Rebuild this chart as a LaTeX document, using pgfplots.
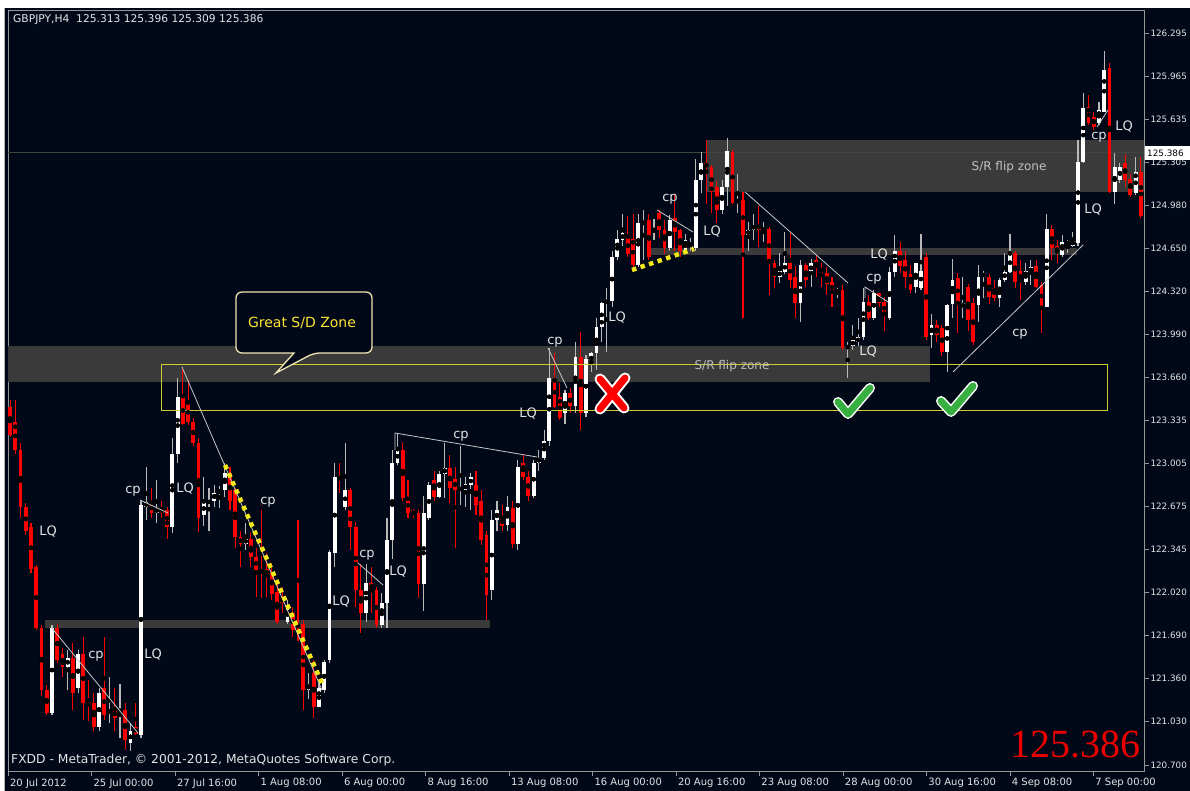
\documentclass[border=0pt]{standalone}
\usepackage{pgfplots}
\pgfplotsset{compat=1.18}
\usepackage{pgfplotstable}
\usepackage{fontspec}
\setmainfont{DejaVu Sans}
\newfontfamily\serifnum{Liberation Serif}
\definecolor{bg}{RGB}{1,9,25}
\definecolor{zone}{RGB}{58,58,58}
\definecolor{bullwick}{RGB}{185,185,185}
\definecolor{bear}{RGB}{255,0,0}
\definecolor{framec}{RGB}{150,150,150}
\definecolor{ylw}{RGB}{205,205,45}
\definecolor{dotylw}{RGB}{245,232,25}
\definecolor{lbl}{RGB}{228,228,228}
\definecolor{chk}{RGB}{55,175,65}
\definecolor{callc}{RGB}{238,228,180}
\definecolor{calltxt}{RGB}{255,228,50}
\definecolor{trend}{RGB}{200,200,200}
\definecolor{pline}{RGB}{60,72,60}

\pgfplotstableread{
i o h l c
0 123.44 123.49 123.21 123.22
1 123.32 123.49 123.08 123.11
2 123.11 123.16 122.59 122.67
3 122.67 122.70 122.46 122.49
4 122.52 122.55 122.17 122.20
5 122.21 122.23 121.73 121.75
6 121.75 121.77 121.23 121.27
7 121.27 121.31 121.08 121.10
8 121.10 121.77 121.08 121.75
9 121.75 121.78 121.48 121.50
10 121.55 121.59 121.37 121.45
11 121.45 121.58 121.27 121.52
12 121.52 121.63 121.12 121.25
13 121.29 121.58 121.25 121.55
14 121.55 121.68 121.04 121.17
15 121.18 121.35 121.04 121.15
16 121.17 121.25 120.96 120.99
17 120.99 121.29 120.96 121.25
18 121.29 121.68 121.04 121.08
19 121.10 121.37 121.02 121.12
20 121.12 121.29 120.96 121.06
21 121.07 121.32 120.91 121.10
22 121.12 121.17 120.81 120.89
23 120.87 121.02 120.81 120.96
24 120.99 121.17 120.93 120.94
25 120.93 122.72 120.91 122.69
26 122.67 122.98 122.57 122.71
27 122.70 122.82 122.59 122.63
28 122.63 122.88 122.55 122.66
29 122.66 122.72 122.59 122.63
30 122.65 122.67 122.43 122.52
31 122.52 123.20 122.47 123.08
32 123.08 123.66 123.01 123.51
33 123.51 123.74 123.30 123.31
34 123.47 123.64 123.30 123.32
35 123.32 123.35 123.14 123.16
36 123.16 123.20 122.48 122.59
37 122.61 122.90 122.53 122.71
38 122.70 122.82 122.49 122.72
39 122.72 122.84 122.67 122.78
40 122.78 122.83 122.66 122.80
41 122.80 123.01 122.75 122.93
42 122.93 122.98 122.65 122.72
43 122.80 122.82 122.36 122.44
44 122.44 122.49 122.21 122.39
45 122.39 122.55 122.34 122.43
46 122.43 122.47 122.21 122.29
47 122.29 122.36 121.98 122.19
48 122.19 122.65 121.98 122.17
49 122.20 122.32 121.98 122.15
50 122.17 122.24 121.96 122.01
51 122.02 122.08 121.78 121.79
52 121.98 122.06 121.86 121.94
53 121.79 121.96 121.78 121.91
54 121.86 121.91 121.68 121.73
55 121.78 122.57 121.65 121.75
56 121.78 121.81 121.12 121.27
57 121.27 121.40 121.20 121.32
58 121.40 121.50 121.06 121.14
59 121.14 121.35 121.14 121.29
60 121.27 121.50 121.25 121.49
61 121.50 122.34 121.48 122.33
62 122.32 123.01 122.21 122.90
63 122.90 123.01 122.78 122.88
64 122.67 123.16 122.65 122.80
65 122.80 122.82 122.34 122.52
66 122.52 122.56 121.91 122.04
67 122.04 122.24 121.71 121.86
68 121.86 122.24 121.79 122.09
69 122.09 122.21 121.86 122.04
70 122.04 122.06 121.75 121.77
71 121.77 122.01 121.75 121.94
72 121.94 122.59 121.75 122.42
73 122.42 123.11 122.27 123.01
74 123.01 123.24 122.99 123.11
75 123.11 123.17 122.72 122.74
76 122.74 122.88 122.59 122.63
77 122.65 122.66 122.59 122.61
78 122.63 122.65 121.98 122.08
79 122.08 122.76 121.88 122.63
80 122.59 122.86 122.57 122.84
81 122.88 122.95 122.72 122.75
82 122.75 122.95 122.74 122.92
83 122.92 123.16 122.74 122.97
84 122.97 123.07 122.70 122.82
85 122.89 122.98 122.36 122.80
86 122.80 123.14 122.69 122.82
87 122.80 122.90 122.67 122.85
88 122.84 122.93 122.65 122.90
89 122.84 122.95 122.61 122.69
90 122.72 122.80 122.38 122.42
91 122.46 122.49 121.81 122.00
92 122.04 122.65 121.96 122.57
93 122.57 122.72 122.49 122.65
94 122.59 122.69 122.49 122.53
95 122.53 122.76 122.49 122.67
96 122.66 122.72 122.36 122.39
97 122.39 123.03 122.34 122.98
98 123.01 123.07 122.88 122.90
99 122.90 122.95 122.72 122.76
100 122.76 123.03 122.74 123.01
101 123.01 123.11 122.95 123.05
102 123.05 123.26 123.03 123.18
103 123.18 123.89 123.14 123.66
104 123.66 123.85 123.43 123.44
105 123.51 123.62 123.34 123.35
106 123.39 123.57 123.31 123.54
107 123.54 123.58 123.39 123.44
108 123.44 123.93 123.39 123.82
109 123.82 124.01 123.26 123.39
110 123.39 123.83 123.36 123.80
111 123.77 123.86 123.70 123.85
112 123.85 124.12 123.72 124.05
113 124.05 124.24 123.93 124.23
114 124.23 124.35 123.86 124.25
115 124.25 124.63 124.20 124.58
116 124.58 124.79 124.56 124.72
117 124.71 124.91 124.67 124.77
118 124.73 124.90 124.58 124.61
119 124.72 124.91 124.48 124.52
120 124.52 124.91 124.51 124.84
121 124.84 124.94 124.56 124.85
122 124.87 124.91 124.56 124.58
123 124.77 124.87 124.71 124.80
124 124.92 124.94 124.73 124.79
125 124.79 124.87 124.61 124.65
126 124.65 124.90 124.63 124.87
127 124.88 125.06 124.63 124.77
128 124.79 124.80 124.58 124.63
129 124.63 124.76 124.62 124.71
130 124.66 124.73 124.63 124.69
131 124.65 125.33 124.63 125.17
132 125.17 125.39 125.07 125.30
133 125.30 125.48 124.99 125.27
134 125.27 125.29 124.92 125.08
135 125.12 125.16 124.84 124.94
136 124.94 125.17 124.91 125.12
137 125.12 125.49 124.97 125.39
138 125.39 125.40 124.99 125.00
139 125.00 125.22 124.92 125.02
140 125.02 125.08 124.12 124.75
141 124.75 124.85 124.63 124.79
142 124.79 124.91 124.71 124.83
143 124.83 124.97 124.66 124.79
144 124.79 124.85 124.70 124.80
145 124.80 124.81 124.29 124.54
146 124.54 124.56 124.35 124.43
147 124.43 124.61 124.38 124.48
148 124.47 124.77 124.45 124.54
149 124.54 124.77 124.35 124.41
150 124.43 124.51 124.12 124.23
151 124.23 124.56 124.09 124.52
152 124.52 124.54 124.35 124.41
153 124.46 124.57 124.35 124.54
154 124.56 124.60 124.43 124.50
155 124.50 124.54 124.35 124.46
156 124.46 124.51 124.29 124.38
157 124.39 124.43 124.20 124.31
158 124.31 124.35 124.27 124.33
159 124.33 124.37 123.87 123.89
160 123.89 123.93 123.66 123.90
161 123.90 124.06 123.87 123.95
162 123.93 124.12 123.90 123.97
163 123.97 124.35 123.95 124.24
164 124.24 124.29 124.10 124.12
165 124.12 124.33 124.10 124.31
166 124.31 124.31 124.20 124.23
167 124.24 124.28 124.02 124.14
168 124.12 124.51 124.10 124.47
169 124.47 124.75 124.43 124.63
170 124.63 124.70 124.46 124.51
171 124.56 124.63 124.35 124.43
172 124.45 124.52 124.31 124.33
173 124.35 124.54 124.31 124.54
174 124.35 124.76 124.33 124.48
175 124.58 124.61 123.95 123.97
176 123.99 124.15 123.89 124.06
177 124.06 124.10 123.93 123.99
178 124.04 124.06 123.83 123.86
179 123.86 124.22 123.70 124.22
180 124.22 124.57 124.12 124.41
181 124.42 124.46 124.00 124.23
182 124.20 124.43 124.12 124.23
183 124.35 124.38 124.02 124.10
184 124.23 124.27 123.91 123.93
185 124.22 124.52 124.09 124.43
186 124.43 124.48 124.27 124.46
187 124.43 124.45 124.22 124.28
188 124.35 124.41 124.25 124.27
189 124.27 124.42 124.20 124.41
190 124.41 124.61 124.39 124.47
191 124.47 124.76 124.46 124.61
192 124.61 124.63 124.35 124.39
193 124.48 124.56 124.25 124.39
194 124.39 124.54 124.37 124.48
195 124.46 124.56 124.37 124.51
196 124.51 124.56 124.35 124.35
197 124.37 124.39 124.00 124.20
198 124.20 124.91 124.20 124.80
199 124.80 124.83 124.56 124.65
200 124.67 124.71 124.54 124.61
201 124.60 124.75 124.58 124.70
202 124.68 124.71 124.61 124.70
203 124.67 124.77 124.66 124.71
204 124.69 125.48 124.67 125.31
205 125.31 125.84 125.30 125.72
206 125.73 125.82 125.59 125.61
207 125.65 125.69 125.55 125.58
208 125.61 125.77 125.59 125.71
209 125.69 126.16 125.69 126.01
210 126.03 126.07 125.07 125.08
211 125.08 125.38 124.99 125.27
212 125.17 125.30 125.15 125.27
213 125.30 125.37 125.12 125.17
214 125.18 125.22 125.04 125.06
215 125.07 125.35 125.06 125.23
216 125.23 125.35 124.88 124.90
}\ohlc

\newcommand\tkfont{\fontsize{10}{11}\selectfont}
\newcommand\ytkfont{\fontsize{8.8}{10}\selectfont}
\newcommand\lqfont{\fontsize{13}{14}\selectfont}

\begin{document}
\begin{tikzpicture}
\useasboundingbox (0,0) rectangle (1190pt,791pt);
\fill[white] (0,0) rectangle (1190pt,791pt);
\fill[bg] (4pt,0) rectangle (1190pt,783pt);
\draw[framec!70, line width=0.8pt] (4.4pt,0) -- (4.4pt,783pt);
\begin{axis}[
  at={(8pt,20pt)}, anchor=south west,
  width=1136pt, height=761pt, scale only axis,
  xmin=-0.40, xmax=216.6, ymin=120.653, ymax=126.471,
  axis line style={draw=framec, line width=0.7pt},
  tick style={draw=framec, line width=0.7pt},
  major tick length=5pt, tick align=outside,
  xtick pos=bottom, ytick pos=right, yticklabel pos=right,
  /pgf/number format/assume math mode=true,
  xtick={-0.38,15.57,31.51,47.46,63.41,79.35,95.30,111.25,127.20,143.14,159.09,175.04,190.98,206.93},
  xticklabels={20 Jul 2012,25 Jul 00:00,27 Jul 16:00,1 Aug 08:00,6 Aug 00:00,8 Aug 16:00,13 Aug 08:00,16 Aug 00:00,20 Aug 16:00,23 Aug 08:00,28 Aug 00:00,30 Aug 16:00,4 Sep 08:00,7 Sep 00:00},
  ytick={126.295,125.965,125.635,125.305,124.980,124.650,124.320,123.990,123.660,123.335,123.005,122.675,122.345,122.020,121.690,121.360,121.030,120.700},
  yticklabels={126.295,125.965,125.635,125.305,124.980,124.650,124.320,123.990,123.660,123.335,123.005,122.675,122.345,122.020,121.690,121.360,121.030,120.700},
  xticklabel style={font=\tkfont, text=lbl, anchor=north west, xshift=-1.5pt, yshift=1pt},
  yticklabel style={font=\ytkfont, text=lbl, anchor=west, xshift=-2pt},
  clip=true,
]
% zones
\fill[zone] (axis cs:-0.4,123.90) rectangle (axis cs:175.7,123.63);
\fill[zone] (axis cs:133.1,125.48) rectangle (axis cs:216.6,125.08);
\fill[zone] (axis cs:122.2,124.65) rectangle (axis cs:203.8,124.60);
\fill[zone] (axis cs:6.7,121.81) rectangle (axis cs:91.7,121.75);
\draw[pline, line width=0.7pt] (axis cs:-0.4,125.386) -- (axis cs:216.6,125.386);
% wicks
\addplot[only marks, mark=none, forget plot, error bars/.cd, y dir=both, y explicit, error mark=none,
  error bar style={draw=bullwick, line width=1.1pt}]
  table[x=i, y expr={(\thisrow{h}+\thisrow{l})/2}, y error expr={(\thisrow{c}>=\thisrow{o})*(\thisrow{h}-\thisrow{l})/2}] {\ohlc};
\addplot[only marks, mark=none, forget plot, error bars/.cd, y dir=both, y explicit, error mark=none,
  error bar style={draw=bear, line width=1.1pt}]
  table[x=i, y expr={(\thisrow{h}+\thisrow{l})/2}, y error expr={(\thisrow{c}<\thisrow{o})*(\thisrow{h}-\thisrow{l})/2}] {\ohlc};
% bodies
\addplot[only marks, mark=none, forget plot, error bars/.cd, y dir=both, y explicit, error mark=none,
  error bar style={draw=white, line width=3.8pt}]
  table[x=i, y expr={(\thisrow{o}+\thisrow{c})/2}, y error expr={(\thisrow{c}>=\thisrow{o})*max(abs(\thisrow{c}-\thisrow{o})/2,0.005)}] {\ohlc};
\addplot[only marks, mark=none, forget plot, error bars/.cd, y dir=both, y explicit, error mark=none,
  error bar style={draw=bear, line width=3.8pt}]
  table[x=i, y expr={(\thisrow{o}+\thisrow{c})/2}, y error expr={(\thisrow{c}<\thisrow{o})*max(abs(\thisrow{c}-\thisrow{o})/2,0.005)}] {\ohlc};
% yellow rectangle
\draw[ylw, line width=0.9pt] (axis cs:29.0,123.76) rectangle (axis cs:209.7,123.41);
\end{axis}

\begin{scope}[shift={(0pt,791pt)}, x=1pt, y=-1pt]
% price box
\fill[white] (1145,146) rectangle (1190,160);
\node[text=black, font=\ytkfont, anchor=west, inner sep=0pt] at (1147,153.5) {125.386};
% header / footer
\node[text=lbl, font=\fontsize{10.7}{11}\selectfont, anchor=west, inner sep=0pt] at (13,20) {GBPJPY,H4\ \ 125.313 125.396 125.309 125.386};
\node[text=lbl, font=\fontsize{12.3}{13}\selectfont, anchor=west, inner sep=0pt] at (11,760) {FXDD - MetaTrader, © 2001-2012, MetaQuotes Software Corp.};
\node[text=red!92!black, font=\serifnum\fontsize{40}{40}\selectfont, anchor=base east, inner sep=0pt] at (1141,758) {125.386};
% trend lines
\draw[trend, line width=0.8pt] (51,627) -- (138,733);
\draw[trend, line width=0.8pt] (182,367) -- (322,690);
\draw[trend, line width=0.8pt] (140,500) -- (168,513);
\draw[trend, line width=0.8pt] (358,563) -- (383,585);
\draw[trend, line width=0.8pt] (395,450) -- (395,433) -- (537,457);
\draw[trend, line width=0.8pt] (548,348) -- (567,388);
\draw[trend, line width=0.8pt] (657,210) -- (693,232);
\draw[trend, line width=0.8pt] (745,192) -- (848,283);
\draw[trend, line width=0.8pt] (865,298) -- (865,287) -- (888,302);
\draw[trend, line width=0.8pt] (953,372) -- (1083,245);
\draw[trend, line width=0.8pt] (1097,127) -- (1108,110);
% yellow dotted
\draw[dotylw, line width=4.5pt, dash pattern=on 4.5pt off 4.5pt] (225,465) -- (322,683);
\draw[dotylw, line width=4.5pt, dash pattern=on 4.5pt off 4.5pt] (632,270) -- (694,249);
% labels
\foreach \x/\y/\t in {48/532/LQ,133/491/cp,185/489/LQ,268/502/cp,96/656/cp,153/655/LQ,341/602/LQ,367/555/cp,398/572/LQ,461/436/cp,528/414/LQ,555/342/cp,617/318/LQ,670/199/cp,712/232/LQ,879/255/LQ,874/279/cp,868/352/LQ,1020/334/cp,1093/210/LQ,1099/137/cp,1124/127/LQ}
  \node[text=lbl, font=\lqfont, inner sep=0pt] at (\x,\y) {\t};
\node[text=lbl!85!black, font=\fontsize{12}{12}\selectfont, inner sep=0pt] at (732,366) {S/R flip zone};
\node[text=lbl!85!black, font=\fontsize{12}{12}\selectfont, inner sep=0pt] at (1009,167) {S/R flip zone};
% callout
\draw[callc, line width=1.3pt, fill=bg, rounded corners=6pt] (236,292) -- (372,292) -- (372,353) -- (314,353) [sharp corners] -- (276,373) -- (294,353) [rounded corners=6pt] -- (236,353) -- cycle;
\node[text=calltxt, font=\fontsize{14}{14}\selectfont, inner sep=0pt] at (302,323) {Great S/D Zone};
% red X
\draw[white, line width=11pt, line cap=round] (600,379) -- (624,408) (625,378) -- (600,409);
\draw[red, line width=7pt, line cap=round] (600,379) -- (624,408) (625,378) -- (600,409);
% checks
\draw[white, line width=10pt, line cap=round, line join=round] (838,402) -- (848,414) -- (870,388);
\draw[chk, line width=7pt, line cap=round, line join=round] (838,402) -- (848,414) -- (870,388);
\draw[white, line width=10pt, line cap=round, line join=round] (941,401) -- (951,412) -- (973,386);
\draw[chk, line width=7pt, line cap=round, line join=round] (941,401) -- (951,412) -- (973,386);
\end{scope}
\end{tikzpicture}
\end{document}
